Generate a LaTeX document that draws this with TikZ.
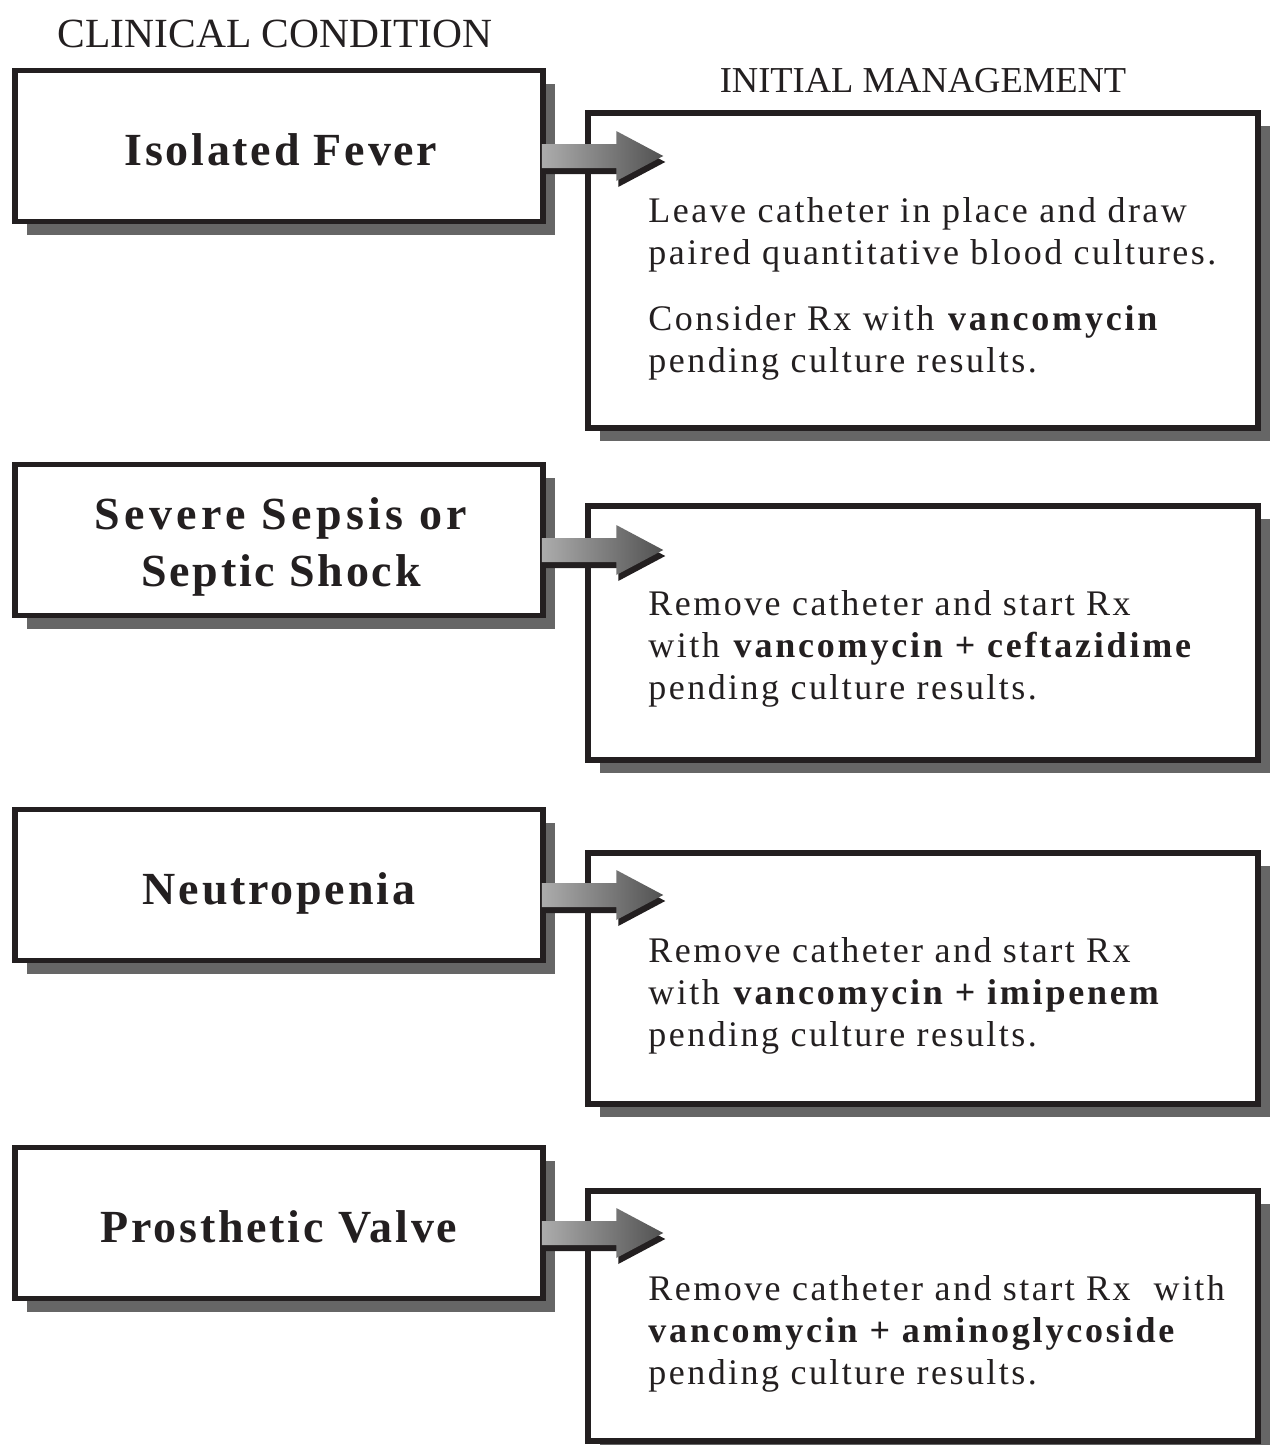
\documentclass[tikz,border=0pt]{standalone}
\usepackage{fontspec}
\setmainfont{Liberation Serif}
\newfontfamily\spacedserif[LetterSpace=6.8, BoldFeatures={LetterSpace=7.8}]{Liberation Serif}
\newfontfamily\titleserif[LetterSpace=6]{Liberation Serif}
\usepackage{tikz}
\usetikzlibrary{calc, positioning, shadows}
\usepackage{xcolor}

\definecolor{framecol}{RGB}{35,31,32}

% outline of the thick block arrow, from tail point #1 to tip point #2
\newcommand{\arrowoutline}[2]{($(#1)+(0,-12)$) -- ($(#2)+(-47,-12)$) -- ($(#2)+(-47,-25)$)
  -- (#2) -- ($(#2)+(-47,25)$) -- ($(#2)+(-47,12)$) -- ($(#1)+(0,12)$) -- cycle}

% arrow from a condition box to its management box
\newcommand{\condarrow}[2]{%
  \coordinate (#1-tail) at ($(#1.east)+(-4,10)$);
  \coordinate (#1-tip) at ($(#2.west |- #1-tail)+(78,0)$);
  \coordinate (#1-stail) at ($(#1-tail)+(2,6)$);
  \coordinate (#1-stip) at ($(#1-tip)+(2,6)$);
  \fill[framecol] \arrowoutline{#1-stail}{#1-stip};
  \shade[left color=gray!65, right color=black!68] \arrowoutline{#1-tail}{#1-tip};
}

\begin{document}
\begin{tikzpicture}[
  x=1pt, y=-1pt,
  boxbase/.style={draw=framecol, line width=5.5pt, fill=white, inner sep=0pt,
                  drop shadow={shadow xshift=12pt, shadow yshift=-13pt,
                               fill=black!60, opacity=1}},
  condbox/.style={boxbase, minimum width=528pt, minimum height=151pt},
  mgmtbox/.style={boxbase, minimum width=670pt},
  condtitle/.style={align=center, inner sep=0pt, text=framecol,
                    font=\titleserif\bfseries\fontsize{46}{57}\selectfont},
  mgmttext/.style={anchor=north west, align=left, inner sep=0pt, text=framecol,
                   font=\spacedserif\fontsize{36}{42}\selectfont},
  header/.style={inner sep=0pt, text=framecol}
]
\useasboundingbox (0,0) rectangle (1269,1445);

% clinical conditions
\node[condbox] (cond1) at (279,146) {};
\node[condbox] (cond2) at (279,540) {};
\node[condbox] (cond3) at (279,885) {};
\node[condbox] (cond4) at (279,1223) {};

\node[condtitle] (title1) at ($(cond1)+(2,4)$) {Isolated Fever};
\node[condtitle] (title2) at ($(cond2)+(2,7)$)
  {\addfontfeature{LetterSpace=9.5}Severe Sepsis or\\ Septic Shock};
\node[condtitle] (title3) at ($(cond3)+(0,8)$) {Neutropenia};
\node[condtitle] (title4) at ($(cond4)+(0,4)$) {Prosthetic Valve};

% initial management
\node[mgmtbox, minimum height=315pt] (mgmt1) at (923,270.5) {};
\node[mgmtbox, minimum height=254pt] (mgmt2) at (923,633) {};
\node[mgmtbox, minimum height=251pt] (mgmt3) at (923,978.5) {};
\node[mgmtbox, minimum height=250pt] (mgmt4) at (923,1316) {};

\node[mgmttext] (txt1) at ($(mgmt1.north west)+(63,87)$) {
  Leave catheter in place and draw\\ paired quantitative blood cultures.\\[24pt]
  Consider Rx with \textbf{vancomycin}\\ pending culture results.
};
\node[mgmttext] (txt2) at ($(mgmt2.north west)+(63,87)$) {
  Remove catheter and start Rx\\ with \textbf{vancomycin + ceftazidime}\\
  pending culture results.
};
\node[mgmttext] (txt3) at ($(mgmt3.north west)+(63,87)$) {
  Remove catheter and start Rx\\ with \textbf{vancomycin + imipenem}\\
  pending culture results.
};
\node[mgmttext] (txt4) at ($(mgmt4.north west)+(63,87)$) {
  Remove catheter and start Rx \ with\\ \textbf{vancomycin + aminoglycoside}\\
  pending culture results.
};

% column headers
\node[header, font=\fontsize{41.5}{48}\selectfont, above=20pt of cond1, xshift=-4pt]
  (hdcond) {CLINICAL CONDITION};
\node[header, font=\fontsize{36.5}{44}\selectfont, above=17pt of mgmt1]
  (hdmgmt) {INITIAL MANAGEMENT};

% arrows
\condarrow{cond1}{mgmt1}
\condarrow{cond2}{mgmt2}
\condarrow{cond3}{mgmt3}
\condarrow{cond4}{mgmt4}

\end{tikzpicture}
\end{document}
